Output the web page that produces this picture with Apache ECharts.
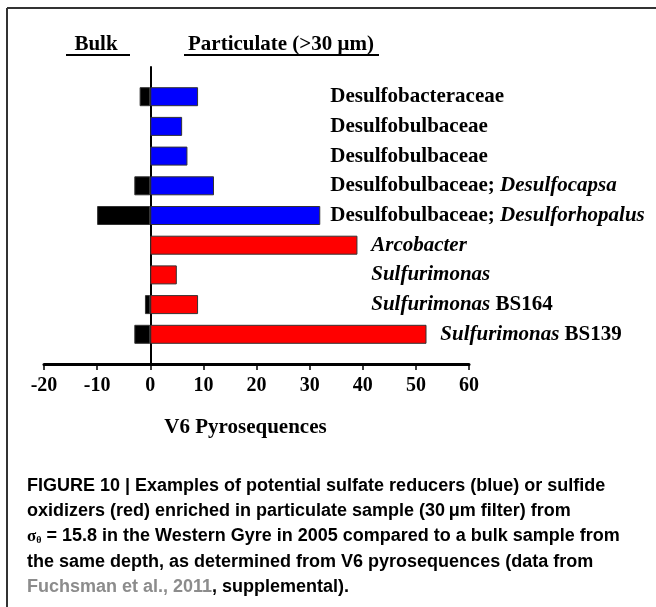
<!DOCTYPE html>
<html>
<head>
<meta charset="utf-8">
<script src="https://cdn.jsdelivr.net/npm/echarts@6/dist/echarts.min.js"></script>
<style>
  html, body { margin: 0; padding: 0; background: #fff; }
  #main { width: 656px; height: 607px; }
</style>
</head>
<body>
<div id="main"></div>
<script>
  // taxa, top to bottom (rich markup: {i|...} is italic)
  var taxa = [
    'Desulfobacteraceae',
    'Desulfobulbaceae',
    'Desulfobulbaceae',
    'Desulfobulbaceae; {i|Desulfocapsa}',
    'Desulfobulbaceae; {i|Desulforhopalus}',
    '{i|Arcobacter}',
    '{i|Sulfurimonas}',
    '{i|Sulfurimonas} BS164',
    '{i|Sulfurimonas} BS139'
  ];
  // V6 pyrosequence counts
  var bulk = [-2, null, null, -3, -10, null, null, -1, -3];
  var particulate = [9, 6, 7, 12, 32, 39, 5, 9, 52];
  // sulfate reducer (blue) or sulfide oxidizer (red)
  var group = ['SR', 'SR', 'SR', 'SR', 'SR', 'SO', 'SO', 'SO', 'SO'];
  // where each taxon label starts, in axis units
  var labelAt = [33.8, 33.8, 33.8, 33.8, 33.8, 41.5, 41.5, 41.5, 54.5];
  var xTicks = [-20, 60, 10]; // min, max, interval

  var caption = [
    'FIGURE 10 | Examples of potential sulfate reducers (blue) or sulfide',
    'oxidizers (red) enriched in particulate sample (30\u2009\u03bcm filter) from',
    '{s|\u03c3}{sub|\u03b8} = 15.8 in the Western Gyre in 2005 compared to a bulk sample from',
    'the same depth, as determined from V6 pyrosequences (data from',
    '{g|Fuchsman et al., 2011}, supplemental).'
  ];

  var serif = '"Liberation Serif", "Times New Roman", serif';
  var sans = '"Liberation Sans", Arial, sans-serif';
  var groupColor = { SR: '#0000ff', SO: '#ff0000' };

  // one blank slot above and below the taxa, as in the original layout
  var slots = ['pad0'];
  taxa.forEach(function (t, i) { slots.push('t' + i); });
  slots.push('pad1');

  function pad(arr) { return [null].concat(arr, [null]); }

  var myChart = echarts.init(document.getElementById('main'));

  var option = {
    animation: false,
    backgroundColor: '#fff',
    grid: { left: 44, right: 187, top: 67, bottom: 243 },
    xAxis: {
      type: 'value',
      min: xTicks[0],
      max: xTicks[1],
      interval: xTicks[2],
      splitLine: { show: false },
      axisLine: { show: true, onZero: false, lineStyle: { color: '#000', width: 3 } },
      axisTick: { show: true, length: 6, lineStyle: { color: '#000', width: 1.5 } },
      axisLabel: { margin: 12, color: '#000', fontFamily: serif, fontWeight: 'bold', fontSize: 20 },
      name: 'V6 Pyrosequences',
      nameLocation: 'middle',
      nameGap: 53,
      nameTextStyle: { color: '#000', fontFamily: serif, fontWeight: 'bold', fontSize: 21, padding: [0, 22, 0, 0] }
    },
    yAxis: {
      type: 'category',
      inverse: true,
      boundaryGap: false,
      data: slots,
      axisLine: { show: true, onZero: true, lineStyle: { color: '#000', width: 2 } },
      axisTick: { show: false },
      axisLabel: { show: false },
      splitLine: { show: false }
    },
    series: [
      {
        name: 'Bulk',
        type: 'bar',
        barWidth: 19,
        barGap: '-100%',
        data: pad(bulk),
        itemStyle: { color: '#000', borderColor: '#333', borderWidth: 1 },
        z: 2
      },
      {
        name: 'Particulate',
        type: 'bar',
        barWidth: 19,
        barGap: '-100%',
        data: pad(particulate.map(function (v, i) {
          return { value: v, itemStyle: { color: groupColor[group[i]] } };
        })),
        itemStyle: { borderColor: '#333', borderWidth: 1 },
        z: 2
      },
      {
        name: 'labels',
        type: 'scatter',
        symbolSize: 1,
        itemStyle: { color: 'transparent', opacity: 1 },
        silent: true,
        data: taxa.map(function (t, i) { return { value: [labelAt[i], i + 1], name: t }; }),
        label: {
          show: true,
          position: 'right',
          distance: 0,
          opacity: 1,
          formatter: function (p) { return p.name; },
          fontFamily: serif, fontWeight: 'bold', fontSize: 21, color: '#000',
          rich: {
            i: { fontFamily: serif, fontWeight: 'bold', fontStyle: 'italic', fontSize: 21, color: '#000' }
          }
        }
      }
    ],
    graphic: [
      // figure frame (left and top edges)
      { type: 'line', shape: { x1: 7, y1: 8, x2: 656, y2: 8 }, style: { stroke: '#333', lineWidth: 2 } },
      { type: 'line', shape: { x1: 7, y1: 8, x2: 7, y2: 607 }, style: { stroke: '#333', lineWidth: 2 } },
      // column headers
      { type: 'text', x: 96, y: 45, style: { text: 'Bulk', align: 'center', verticalAlign: 'middle', fill: '#000', font: 'bold 21px ' + serif } },
      { type: 'line', shape: { x1: 66, y1: 55, x2: 130, y2: 55 }, style: { stroke: '#000', lineWidth: 2 } },
      { type: 'text', x: 188, y: 45, style: { text: 'Particulate (>30 \u03bcm)', align: 'left', verticalAlign: 'middle', fill: '#000', font: 'bold 21px ' + serif } },
      { type: 'line', shape: { x1: 184, y1: 55, x2: 379, y2: 55 }, style: { stroke: '#000', lineWidth: 2 } }
    ].concat(caption.map(function (line, k) {
      return {
        type: 'text',
        x: 27,
        y: 486 + k * 25.2,
        style: {
          text: line,
          align: 'left',
          verticalAlign: 'middle',
          fill: '#000',
          font: 'bold 18px ' + sans,
          rich: {
            s: { font: 'bold 17px ' + serif, fill: '#000' },
            sub: { font: 'bold 10px ' + serif, fill: '#000', verticalAlign: 'bottom', padding: [7, 0, 0, 0] },
            g: { font: 'bold 18px ' + sans, fill: '#8c8c8c' }
          }
        }
      };
    }))
  };

  myChart.setOption(option);
</script>
</body>
</html>
